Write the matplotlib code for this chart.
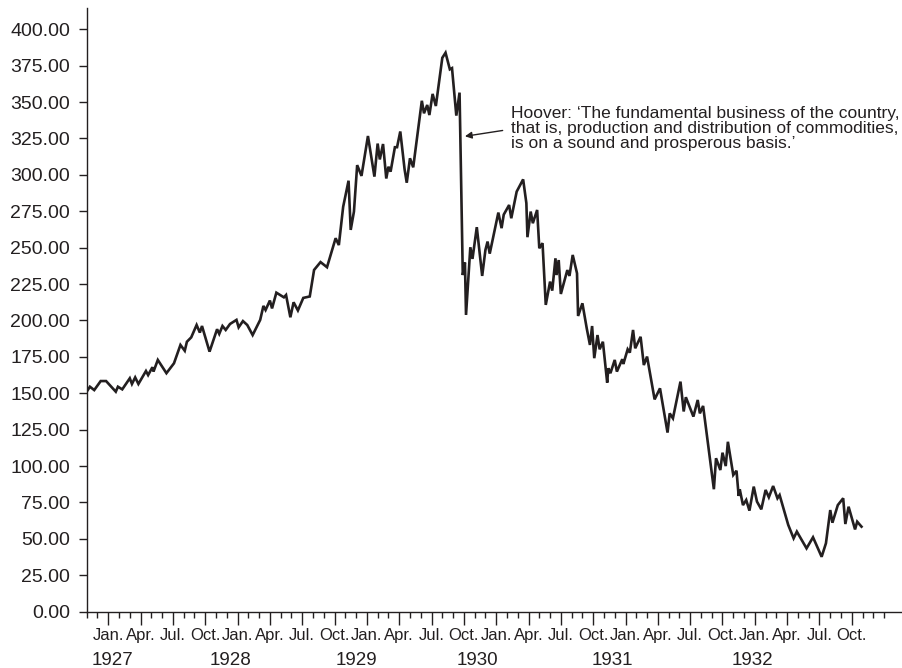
import numpy as np
import matplotlib
matplotlib.use("Agg")
import matplotlib.pyplot as plt
from matplotlib.ticker import FixedLocator, FuncFormatter

plt.rcParams['font.family'] = ['Liberation Sans', 'DejaVu Sans']

# months counted from Jan. 1927, Dow Jones index
months = [-2.0, -1.7, -1.3, -0.7, -0.2, 0.7, 0.9, 1.3, 2.0, 2.2, 2.5, 2.8, 3.5, 3.7, 4.1, 4.2,
          4.6, 5.4, 6.1, 6.7, 7.1, 7.3, 7.7, 8.2, 8.5, 8.7, 9.4, 10.1, 10.3, 10.6, 10.9, 11.3,
          11.9, 12.1, 12.5, 12.9, 13.4, 14.1, 14.4, 14.6, 15.0, 15.2, 15.6, 16.3, 16.5, 16.9,
          17.2, 17.6, 18.1, 18.7, 19.1, 19.7, 20.3, 21.1, 21.4, 21.8, 22.3, 22.5, 22.8, 23.1,
          23.5, 24.1, 24.7, 25.0, 25.2, 25.5, 25.8, 26.0, 26.2, 26.6, 26.8, 27.1, 27.5, 27.7,
          28.0, 28.3, 29.1, 29.3, 29.6, 29.8, 30.1, 30.4, 31.0, 31.3, 31.7, 31.9, 32.3, 32.6,
          32.9, 33.1, 33.2, 33.6, 33.8, 34.2, 34.7, 35.0, 35.2, 35.4, 36.2, 36.5, 36.7, 37.2,
          37.4, 37.9, 38.5, 38.8, 38.9, 39.2, 39.4, 39.8, 40.0, 40.3, 40.6, 41.0, 41.2, 41.5,
          41.6, 41.8, 42.0, 42.6, 42.8, 43.1, 43.5, 43.6, 44.0, 44.4, 44.7, 44.9, 45.1, 45.4,
          45.6, 45.9, 46.3, 46.4, 46.6, 47.0, 47.2, 47.7, 47.8, 48.2, 48.4, 48.7, 48.9, 49.4,
          49.7, 50.0, 50.7, 51.2, 51.9, 52.1, 52.4, 53.1, 53.4, 53.6, 54.3, 54.7, 54.9, 55.2,
          56.2, 56.4, 56.8, 57.0, 57.3, 57.5, 58.0, 58.3, 58.5, 58.6, 58.9, 59.2, 59.5, 59.9,
          60.2, 60.6, 61.0, 61.3, 61.7, 62.1, 62.3, 63.1, 63.6, 63.9, 64.8, 65.4, 66.2, 66.6,
          67.0, 67.2, 67.7, 68.2, 68.4, 68.7, 69.3, 69.5, 69.9]
dow = [151.1, 154.5, 152.2, 158.4, 158.4, 151.1, 154.5, 152.7, 160.3, 156.4, 160.9, 156.4, 165.3,
       162.5, 167.9, 164.9, 172.9, 163.8, 170.6, 183.2, 179.2, 185.4, 188.4, 196.9, 191.7, 196.2,
       178.6, 194.0, 190.8, 196.2, 193.5, 197.6, 200.4, 195.3, 199.6, 196.9, 190.0, 200.4, 210.0,
       207.2, 213.7, 208.3, 219.1, 215.9, 217.5, 202.2, 212.5, 206.9, 215.5, 216.5, 234.7, 240.1,
       236.6, 256.5, 251.8, 278.1, 296.0, 262.2, 274.8, 306.7, 299.3, 326.7, 298.8, 321.5, 310.6,
       321.2, 297.5, 305.6, 302.2, 319.0, 319.0, 329.8, 303.8, 294.6, 311.4, 305.2, 350.9, 342.3,
       348.0, 341.1, 355.6, 347.3, 380.4, 383.9, 372.5, 373.3, 340.7, 356.5, 231.2, 239.8, 203.8,
       250.3, 242.3, 264.1, 230.6, 248.4, 254.2, 245.9, 274.1, 263.4, 272.7, 279.3, 270.2, 288.5,
       296.9, 280.6, 257.2, 274.8, 266.8, 275.9, 249.6, 253.1, 210.7, 226.7, 220.5, 242.7, 231.2,
       241.5, 218.2, 234.6, 230.6, 245.0, 232.4, 203.1, 211.8, 194.7, 183.2, 196.2, 174.1, 190.0,
       180.2, 185.4, 157.3, 167.2, 163.8, 172.9, 164.9, 173.4, 170.1, 180.2, 177.9, 193.5, 180.9,
       188.8, 169.4, 175.2, 145.8, 153.4, 123.0, 136.2, 132.8, 158.0, 137.5, 147.3, 134.0, 145.4,
       136.2, 141.3, 84.1, 105.4, 97.3, 109.2, 100.0, 116.7, 93.9, 96.8, 79.5, 84.1, 73.2, 76.7,
       69.4, 85.9, 75.6, 70.3, 83.6, 78.6, 86.3, 77.9, 80.1, 59.6, 50.4, 55.0, 43.5, 51.1, 37.7,
       47.0, 69.8, 61.1, 73.2, 77.9, 60.2, 72.1, 56.5, 61.8, 58.4]

month_names = ['Jan.', 'Apr.', 'Jul.', 'Oct.']
years = ['1927', '1928', '1929', '1930', '1931', '1932']
year_pos = [0.4, 11.3, 23.0, 34.3, 46.8, 59.8]

quote = ("Hoover: \u2018The fundamental business of the country,\n"
         "that is, production and distribution of commodities,\n"
         "is on a sound and prosperous basis.\u2019")

ink = '#231f20'

fig = plt.figure(figsize=(9.03, 6.68), dpi=100)
ax = fig.add_axes([0.096, 0.0843, 0.904, 0.9037])

ax.plot(months, dow, color=ink, lw=1.9, solid_joinstyle='miter')

ax.set_xlim(-2.0, 73.75)
ax.set_ylim(0, 414.6)

for s in ['top', 'right']:
    ax.spines[s].set_visible(False)
for s in ['left', 'bottom']:
    ax.spines[s].set_color(ink)
    ax.spines[s].set_linewidth(1.0)

ax.set_yticks(np.arange(0, 401, 25))
ax.yaxis.set_major_formatter(FuncFormatter(lambda v, p: '%.2f' % v))
ax.tick_params(axis='y', direction='out', length=6, width=1, colors=ink,
               labelsize=14, pad=6)

ax.xaxis.set_major_locator(FixedLocator(np.arange(0, 70, 3)))
ax.xaxis.set_minor_locator(FixedLocator(np.arange(-2, 73, 1)))
ax.xaxis.set_major_formatter(FuncFormatter(lambda v, p: month_names[int(round(v / 3)) % 4]))
ax.tick_params(axis='x', which='major', direction='out', length=9, width=1, colors=ink,
               labelsize=12, pad=3)
ax.tick_params(axis='x', which='minor', direction='out', length=4, width=1, colors=ink)

for yr, xp in zip(years, year_pos):
    ax.text(xp, -0.081, yr, transform=ax.get_xaxis_transform(), ha='center', va='center',
            fontsize=13.5, color=ink)

ax.annotate('', xy=(33.1, 326.5), xytext=(36.6, 330.5),
            arrowprops=dict(arrowstyle='-|>', color=ink, lw=1.0,
                            mutation_scale=10, shrinkA=0, shrinkB=0))
ax.text(37.4, 332.0, quote, ha='left', va='center', fontsize=12.5, color=ink,
        linespacing=1.0)

fig.savefig('out.png', dpi=100)
